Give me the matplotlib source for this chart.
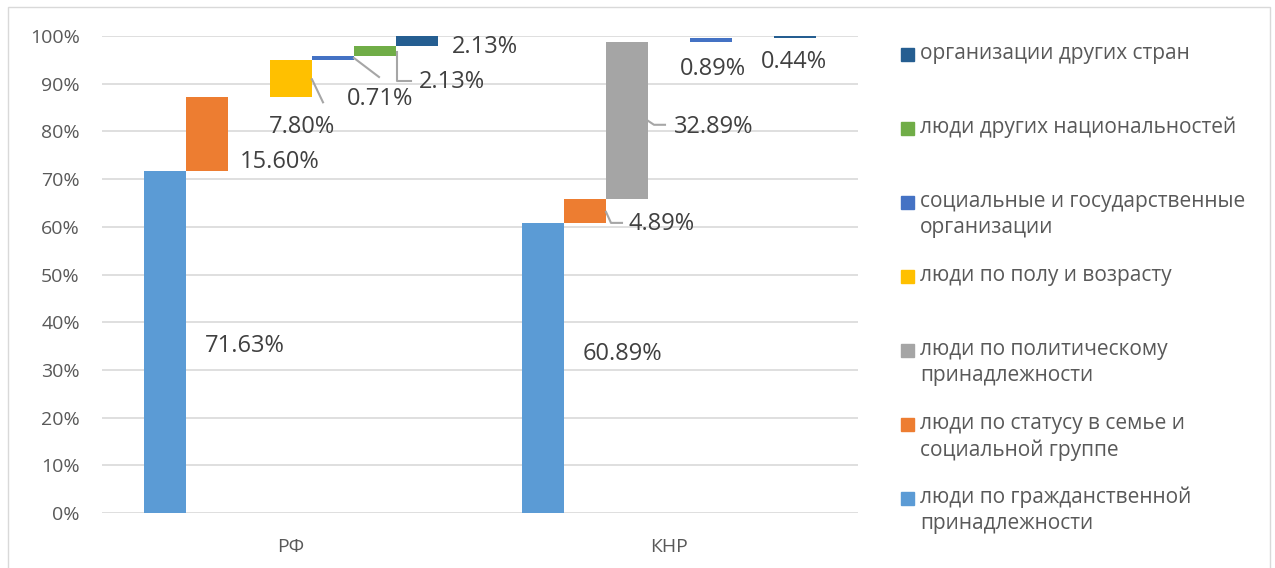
"""
Структура объектов (РФ / КНР) - каскадная диаграмма
"""

import numpy as np
import matplotlib
matplotlib.use('Agg')
import matplotlib.pyplot as plt
from matplotlib.patches import Rectangle

plt.rcParams['font.family'] = ['Open Sans', 'DejaVu Sans']

# данные
categories = ['РФ', 'КНР']
series_names = [
    'люди по гражданственной\nпринадлежности',
    'люди по статусу в семье и\nсоциальной группе',
    'люди по политическому\nпринадлежности',
    'люди по полу и возрасту',
    'социальные и государственные\nорганизации',
    'люди других национальностей',
    'организации других стран',
]
colors = ['#5B9BD5', '#ED7D31', '#A5A5A5', '#FFC000', '#4472C4', '#70AD47', '#255E91']
values_rf = [71.63, 15.60, 0, 7.80, 0.71, 2.13, 2.13]
values_knr = [60.89, 4.89, 32.89, 0, 0.89, 0, 0.44]
yticks = [0, 10, 20, 30, 40, 50, 60, 70, 80, 90, 100]

# смещения подписей (пиксели) относительно центра столбца
label_offsets = {
    (0, 0): (80, -4), (0, 1): (73, -28), (0, 3): (11, -49), (0, 4): (47, -41),
    (0, 5): (77, -31), (0, 6): (68, -6),
    (1, 0): (79, 14), (1, 1): (77, -13), (1, 2): (87, -6), (1, 4): (2, -29),
    (1, 6): (-1, -25),
}
# линии-выноски (пиксели) от правого края столбца
leaders = {
    (0, 3): [(0, -1), (11, -24)],
    (0, 4): [(0, 0), (25, -19)],
    (0, 5): [(1, -1), (1, -30), (15, -30)],
    (1, 1): [(0, -1), (5, -12), (16, -12)],
    (1, 2): [(0, 0), (6, -4), (17, -4)],
}

W, H = 1275, 568
fig = plt.figure(figsize=(W / 100, H / 100), dpi=100)
ax = fig.add_axes([102 / W, (H - 513) / H, (858 - 102) / W, (513 - 36) / H])
ax.set_xlim(-0.5, 1.5)
ax.set_ylim(0, 100)

vals = np.array([values_rf, values_knr])
bottoms = np.cumsum(vals, axis=1) - vals
n = len(series_names)
w = 1 / 9

for i in range(n):
    x = np.arange(len(categories)) + (i - (n - 1) / 2) * w
    ax.bar(x, vals[:, i], w, bottom=bottoms[:, i], color=colors[i], zorder=2)

# подписи данных
for c in range(len(categories)):
    for i in range(n):
        v = vals[c, i]
        if v <= 0:
            continue
        xc = c + (i - (n - 1) / 2) * w
        ym = bottoms[c, i] + v / 2
        dx, dy = label_offsets[(c, i)]
        ax.annotate(f'{v:.2f}%', xy=(xc, ym), xytext=(dx, dy), textcoords='offset pixels',
                    ha='center', va='center', fontsize=17, color='#404040',
                    annotation_clip=False, zorder=4)
        if (c, i) in leaders:
            base = ax.transData.transform((xc + w / 2, ym))
            pts = base + np.array(leaders[(c, i)], dtype=float)
            pts = ax.transData.inverted().transform(pts)
            ax.plot(pts[:, 0], pts[:, 1], color='#A6A6A6', lw=1.5, zorder=3, clip_on=False)

ax.set_yticks(yticks)
ax.set_yticklabels([f'{t}%' for t in yticks])
ax.set_xticks(range(len(categories)))
ax.set_xticklabels(categories)
ax.tick_params(axis='both', length=0, labelsize=14, labelcolor='#595959', pad=16)
ax.tick_params(axis='x', pad=18)
ax.grid(axis='y', color='#D9D9D9', lw=1.2, zorder=0)
ax.set_axisbelow(True)
for s in ax.spines.values():
    s.set_visible(False)

# легенда
for k, i in enumerate(range(n - 1, -1, -1)):
    yc = 53 + k * 74
    fig.patches.append(Rectangle((901 / W, (H - yc - 8) / H), 13 / W, 13 / H,
                                 transform=fig.transFigure, color=colors[i]))
    for j, line in enumerate(series_names[i].split('\n')):
        fig.text(920 / W, (H - yc - j * 27) / H, line, fontsize=15, color='#595959',
                 ha='left', va='center')

# рамка
fig.patches.append(Rectangle((8 / W, -0.05), (1270 - 8) / W, (H - 7) / H + 0.05,
                             transform=fig.transFigure, fill=False, edgecolor='#D9D9D9', lw=1))

fig.savefig('out.png', dpi=100)
